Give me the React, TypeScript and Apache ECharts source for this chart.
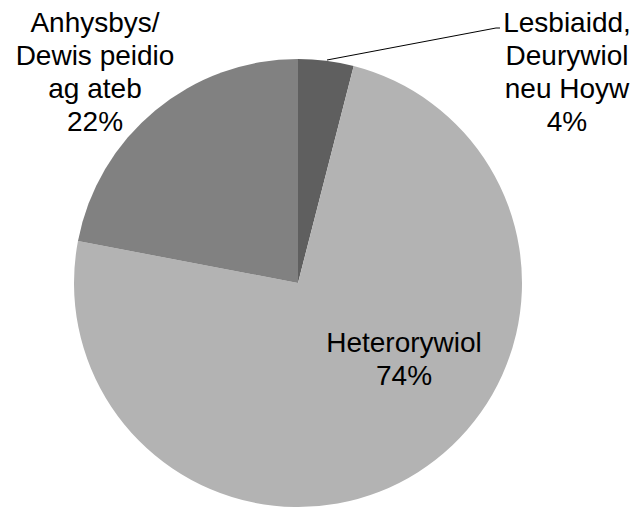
import React, { useEffect, useRef } from "react";
import * as echarts from "echarts";

const categories = ["Lesbiaidd,\nDeurywiol\nneu Hoyw", "Heterorywiol", "Anhysbys/\nDewis peidio\nag ateb"];
const values = [4, 74, 22];
const colors = ["#5f5f5f", "#b3b3b3", "#818181"];

export default function App() {
  const ref = useRef<HTMLDivElement>(null);
  useEffect(() => {
    if (!ref.current) return;
    const chart = echarts.init(ref.current, null, { renderer: "svg" });
    const cx = 298, cy = 283, r = 224;
    const labelPos = [
      { x: 567, y: 72 },
      { x: 404, y: 359 },
      { x: 95, y: 72 },
    ];
    chart.setOption({
      animation: false,
      backgroundColor: "#ffffff",
      series: [
        {
          type: "pie",
          center: [cx, cy],
          radius: [0, r],
          startAngle: 90,
          clockwise: true,
          avoidLabelOverlap: false,
          label: {
            show: true,
            position: "outside",
            color: "#000000",
            fontFamily: "Liberation Sans, Arial, sans-serif",
            fontSize: 28,
            lineHeight: 33,
            align: "center",
            formatter: (p: any) => `${p.name}\n${Math.round(p.percent)}%`,
          },
          labelLine: { show: false, lineStyle: { color: "#000000", width: 1 } },
          labelLayout: (params: any) => {
            const i = params.dataIndex;
            const res: any = {
              x: labelPos[i].x,
              y: labelPos[i].y,
              align: "center",
              verticalAlign: "middle",
            };
            if (i === 0) {
              res.labelLinePoints = [
                [327, 60],
                [496, 28],
                [500, 28],
              ];
            }
            return res;
          },
          data: categories.map((name, i) => ({
            name,
            value: values[i],
            itemStyle: { color: colors[i] },
            labelLine: { show: i === 0, length: 20, length2: 10 },
          })),
        },
      ],
    });
    return () => chart.dispose();
  }, []);
  return (
    <div
      ref={ref}
      style={{ position: "fixed", left: 0, top: 0, width: 638, height: 507 }}
    />
  );
}
